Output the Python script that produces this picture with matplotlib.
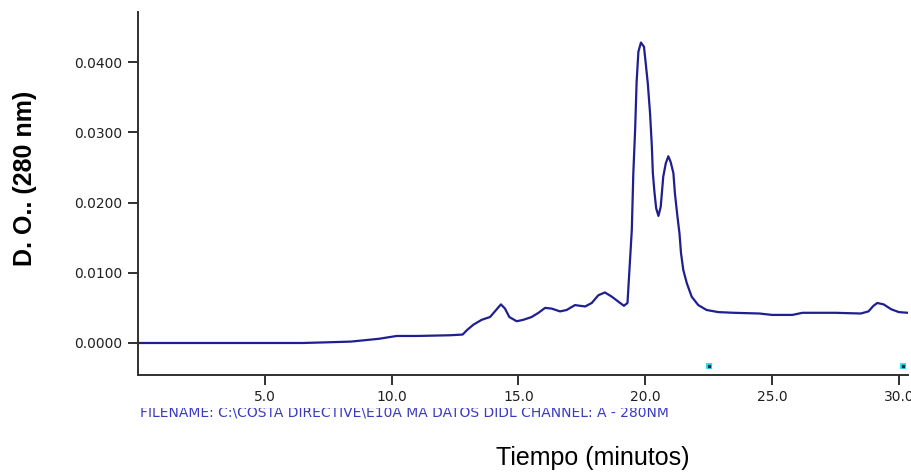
import numpy as np
import matplotlib.pyplot as plt
from matplotlib.transforms import Bbox

# elution profile, time in minutes / optical density at 280 nm
tiempo = [0.0, 2.0, 4.0, 6.5, 7.5, 8.4, 9.5, 10.2, 11.0, 12.3, 12.8,
          12.96, 13.22, 13.55, 13.88, 14.12, 14.31, 14.47, 14.64, 14.93,
          15.19, 15.52, 15.79, 16.05, 16.31, 16.64, 16.90, 17.23, 17.63,
          17.89, 18.15, 18.41, 18.68, 19.01, 19.16, 19.30, 19.37, 19.47,
          19.53, 19.60, 19.66, 19.73, 19.83, 19.95, 20.02, 20.10, 20.19,
          20.26, 20.30, 20.36, 20.43, 20.52, 20.61, 20.71, 20.81, 20.91,
          21.00, 21.11, 21.17, 21.27, 21.35, 21.41, 21.50, 21.64, 21.83,
          22.09, 22.42, 22.88, 23.5, 24.5, 25.0, 25.8, 26.2, 27.5, 28.5,
          28.8, 29.0, 29.15, 29.4, 29.7, 30.0, 30.36]
densidad = [0.0, 0.0, 0.0, 0.0, 0.0001, 0.0002, 0.0006, 0.0010, 0.0010,
            0.0011, 0.0012, 0.0018, 0.0026, 0.0033, 0.0037, 0.0047, 0.0055,
            0.0049, 0.0037, 0.0031, 0.0033, 0.0037, 0.0043, 0.0050, 0.0049,
            0.0045, 0.0047, 0.0054, 0.0052, 0.0057, 0.0068, 0.0072, 0.0066,
            0.0057, 0.0053, 0.0057, 0.0100, 0.0161, 0.0242, 0.0303, 0.0372,
            0.0415, 0.0428, 0.0422, 0.0398, 0.0370, 0.0327, 0.0280, 0.0242,
            0.0216, 0.0192, 0.0181, 0.0194, 0.0237, 0.0256, 0.0266, 0.0258,
            0.0242, 0.0213, 0.0180, 0.0156, 0.0128, 0.0104, 0.0085, 0.0066,
            0.0054, 0.0047, 0.0044, 0.0043, 0.0042, 0.0040, 0.0040, 0.0043,
            0.0043, 0.0042, 0.0045, 0.0053, 0.0057, 0.0055, 0.0048, 0.0044,
            0.0043]

# event marks under the baseline
marcas_t = [22.52, 30.17]
marcas_y = [-0.0033, -0.0033]

x_ticks = [5.0, 10.0, 15.0, 20.0, 25.0, 30.0]
y_ticks = [0.0, 0.01, 0.02, 0.03, 0.04]

fig = plt.figure(figsize=(9.11, 4.72), dpi=100)
ax = fig.add_axes([138 / 911, 1 - 375 / 472, 770 / 911, 363 / 472])

ax.plot(tiempo, densidad, color="#1f1f8f", lw=1.6)
ax.scatter(marcas_t, marcas_y, marker="s", s=16, color="#33e0f0",
           edgecolors="none", zorder=3)
ax.scatter(marcas_t, marcas_y, marker="s", s=2, color="#103060", zorder=4)

ax.set_xlim(0, 30.36)
ax.set_ylim(-0.00456, 0.04715)
ax.set_xticks(x_ticks)
ax.set_xticklabels(["%.1f" % v for v in x_ticks])
ax.set_yticks(y_ticks)
ax.set_yticklabels(["%.4f" % v for v in y_ticks])

for s in ["top", "right"]:
    ax.spines[s].set_visible(False)
for s in ["left", "bottom"]:
    ax.spines[s].set_linewidth(1.4)
    ax.spines[s].set_color("#303030")
ax.tick_params(direction="out", length=7, width=1.4, color="#303030",
               labelsize=10, labelcolor="#202020", pad=4)

fig.text(25 / 911, 1 - 178 / 472, "D. O.. (280 nm)", rotation=90,
         ha="center", va="center", fontsize=18, fontweight="bold",
         family="Liberation Sans")
fig.text(593 / 911, 1 - 458 / 472, "Tiempo (minutos)", ha="center",
         va="center", fontsize=18, family="Liberation Sans")

# file caption from the instrument, its upper half cut off
cap = fig.text(140 / 911, 1 - 412 / 472,
               "FILENAME: C:\\COSTA DIRECTIVE\\E10A MA DATOS DIDL CHANNEL: A - 280NM",
               fontsize=10, color="#3a3ac0", va="center", ha="left")
cap.set_clip_box(Bbox([[0, 0], [911, 472 - 408]]))

fig.savefig("out.png", dpi=100)
